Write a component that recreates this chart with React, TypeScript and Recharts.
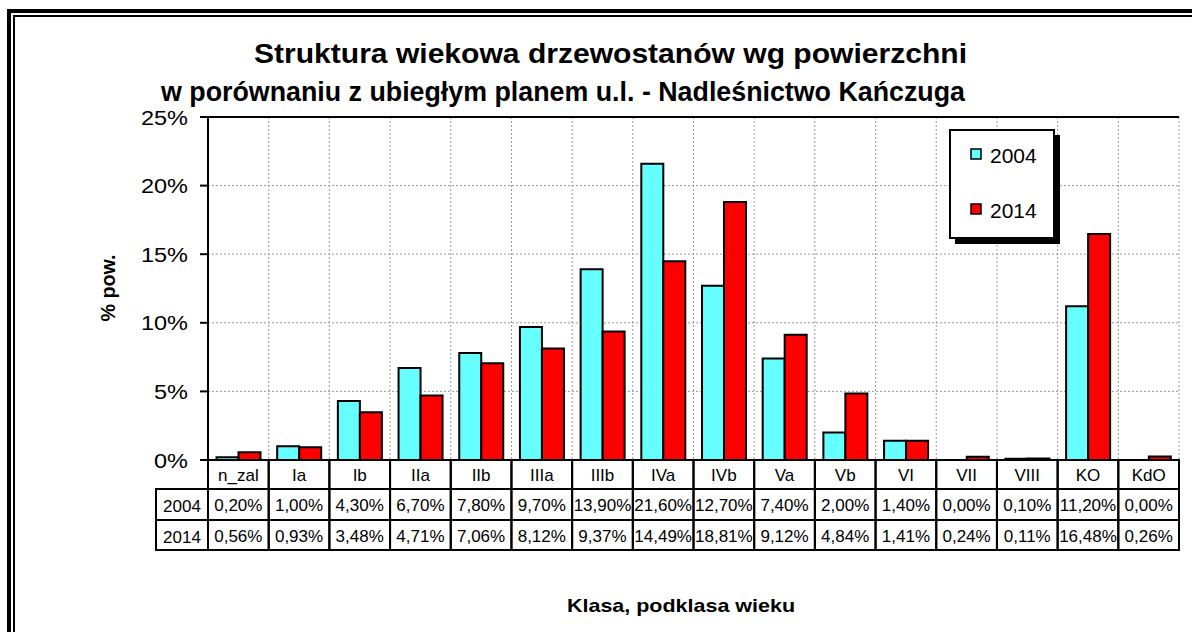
import React from 'react';
import { BarChart, Bar, XAxis, YAxis, CartesianGrid, Legend, ReferenceLine } from 'recharts';

const categories = ['n_zal', 'Ia', 'Ib', 'IIa', 'IIb', 'IIIa', 'IIIb', 'IVa', 'IVb', 'Va', 'Vb', 'VI', 'VII', 'VIII', 'KO', 'KdO'];
const values2004 = [0.2, 1.0, 4.3, 6.7, 7.8, 9.7, 13.9, 21.6, 12.7, 7.4, 2.0, 1.4, 0.0, 0.1, 11.2, 0.0];
const values2014 = [0.56, 0.93, 3.48, 4.71, 7.06, 8.12, 9.37, 14.49, 18.81, 9.12, 4.84, 1.41, 0.24, 0.11, 16.48, 0.26];
const seriesNames = ['2004', '2014'];
const yTicks = [0, 5, 10, 15, 20, 25];

const data = categories.map((cat, i) => ({ cat, v2004: values2004[i], v2014: values2014[i] }));

const FONT = 'Arial, "Liberation Sans", sans-serif';
const CYAN = '#66FFFF';
const RED = '#FF0000';

const fmt = (v: number) => v.toFixed(2).replace('.', ',') + '%';

// rysuje kolumne tabeli danych pod kazda kategoria
const TableTick = (props: any) => {
  const { x, y, payload, index, width, visibleTicksCount } = props;
  const colW = width && visibleTicksCount ? width / visibleTicksCount : 60.7;
  const left = x - colW / 2;
  const rows = [29, 31, 30];
  const y1 = y + rows[0];
  const y2 = y1 + rows[1];
  const cellText = { fontSize: 17, fontFamily: FONT, fill: '#000', textAnchor: 'middle' as const };
  return (
    <g>
      <rect x={left} y={y} width={colW} height={rows[0]} fill="none" stroke="#000" strokeWidth={2} />
      <rect x={left} y={y1} width={colW} height={rows[1]} fill="none" stroke="#000" strokeWidth={2} />
      <rect x={left} y={y2} width={colW} height={rows[2]} fill="none" stroke="#000" strokeWidth={2} />
      <text x={x} y={y + 21} {...cellText}>{payload.value}</text>
      <text x={x} y={y1 + 22} {...cellText}>{fmt(values2004[index])}</text>
      <text x={x} y={y2 + 22} {...cellText}>{fmt(values2014[index])}</text>
      {index === 0 && (
        <g>
          <rect x={left - 52} y={y1} width={52} height={rows[1]} fill="none" stroke="#000" strokeWidth={2} />
          <rect x={left - 52} y={y2} width={52} height={rows[2]} fill="none" stroke="#000" strokeWidth={2} />
          <text x={left - 26} y={y1 + 23} {...cellText}>{seriesNames[0]}</text>
          <text x={left - 26} y={y2 + 23} {...cellText}>{seriesNames[1]}</text>
        </g>
      )}
    </g>
  );
};

const YTick = (props: any) => {
  const { x, y, payload } = props;
  return (
    <text
      transform={`translate(${x},${y}) scale(1.12,1)`}
      textAnchor="end"
      dy="0.36em"
      fontSize={21}
      fontFamily={FONT}
      fill="#000"
    >
      {`${payload.value}%`}
    </text>
  );
};

const LegendBox = () => (
  <svg width={116} height={120} style={{ display: 'block' }}>
    <rect x={6} y={6} width={105} height={109} fill="#000" />
    <rect x={1} y={1} width={104} height={108} fill="#fff" stroke="#000" strokeWidth={2} />
    <rect x={22} y={20} width={10} height={10} fill={CYAN} stroke="#000" strokeWidth={1.5} />
    <text x={41} y={34} fontSize={21} fontFamily={FONT} fill="#000">{seriesNames[0]}</text>
    <rect x={22} y={75} width={10} height={10} fill={RED} stroke="#000" strokeWidth={1.5} />
    <text x={41} y={89} fontSize={21} fontFamily={FONT} fill="#000">{seriesNames[1]}</text>
  </svg>
);

export default function App() {
  return (
    <div style={{ position: 'absolute', left: 0, top: 0, width: 1192, height: 632, overflow: 'hidden', background: '#fff' }}>
      {/* podwojna ramka */}
      <div style={{ position: 'absolute', left: 7, top: 9, width: 1300, height: 800, borderLeft: '4px solid #000', borderTop: '4px solid #000' }} />
      <div style={{ position: 'absolute', left: 13, top: 15, width: 1300, height: 800, borderLeft: '2px solid #000', borderTop: '2px solid #000' }} />

      <div style={{ position: 'absolute', left: 0, top: 0 }}>
        <BarChart
          width={1192}
          height={632}
          data={data}
          margin={{ top: 117, right: 13, left: 108, bottom: 0 }}
          barCategoryGap="14%"
          barGap={0}
        >
          <CartesianGrid
            stroke="#9a9a9a"
            strokeDasharray="2 2"
            verticalCoordinatesGenerator={({ offset }: any) =>
              categories.map((_, i) => offset.left + ((i + 1) * offset.width) / categories.length)
            }
          />
          <XAxis
            dataKey="cat"
            interval={0}
            height={172}
            tickLine={false}
            tickSize={0}
            tickMargin={0}
            axisLine={{ stroke: '#000', strokeWidth: 2 }}
            tick={<TableTick />}
          />
          <YAxis
            domain={[0, 25]}
            ticks={yTicks}
            width={100}
            tick={<YTick />}
            tickSize={8}
            tickMargin={12}
            tickLine={{ stroke: '#000', strokeWidth: 2 }}
            axisLine={{ stroke: '#000', strokeWidth: 2 }}
          />
          <YAxis
            yAxisId="right"
            orientation="right"
            domain={[0, 25]}
            width={0}
            tick={false}
            tickLine={false}
            axisLine={{ stroke: '#000', strokeWidth: 2 }}
          />
          <ReferenceLine y={25} stroke="#000" strokeWidth={2} />
          <Legend
            layout="vertical"
            align="center"
            verticalAlign="middle"
            wrapperStyle={{ position: 'absolute', left: 949, top: 129, width: 116, height: 120 }}
            content={() => <LegendBox />}
          />
          <Bar dataKey="v2004" name={seriesNames[0]} fill={CYAN} stroke="#000" strokeWidth={2} isAnimationActive={false} />
          <Bar dataKey="v2014" name={seriesNames[1]} fill={RED} stroke="#000" strokeWidth={2} isAnimationActive={false} />
        </BarChart>
      </div>

      {/* tytul i opisy osi */}
      <svg width={1192} height={632} style={{ position: 'absolute', left: 0, top: 0, pointerEvents: 'none' }}>
        <text x={254} y={63} textLength={713} lengthAdjust="spacingAndGlyphs" fontSize={27} fontWeight="bold" fontFamily={FONT} fill="#000">
          Struktura wiekowa drzewostanów wg powierzchni
        </text>
        <text x={161} y={101} textLength={804} lengthAdjust="spacingAndGlyphs" fontSize={27} fontWeight="bold" fontFamily={FONT} fill="#000">
          w porównaniu z ubiegłym planem u.l. - Nadleśnictwo Kańczuga
        </text>
        <text
          x={107}
          y={288}
          transform="rotate(-90 107 288)"
          textAnchor="middle"
          dominantBaseline="central"
          textLength={67}
          lengthAdjust="spacingAndGlyphs"
          fontSize={21}
          fontWeight="bold"
          fontFamily={FONT}
          fill="#000"
        >
          % pow.
        </text>
        <text x={681} y={612} textAnchor="middle" textLength={228} lengthAdjust="spacingAndGlyphs" fontSize={19} fontWeight="bold" fontFamily={FONT} fill="#000">
          Klasa, podklasa wieku
        </text>
      </svg>
    </div>
  );
}
